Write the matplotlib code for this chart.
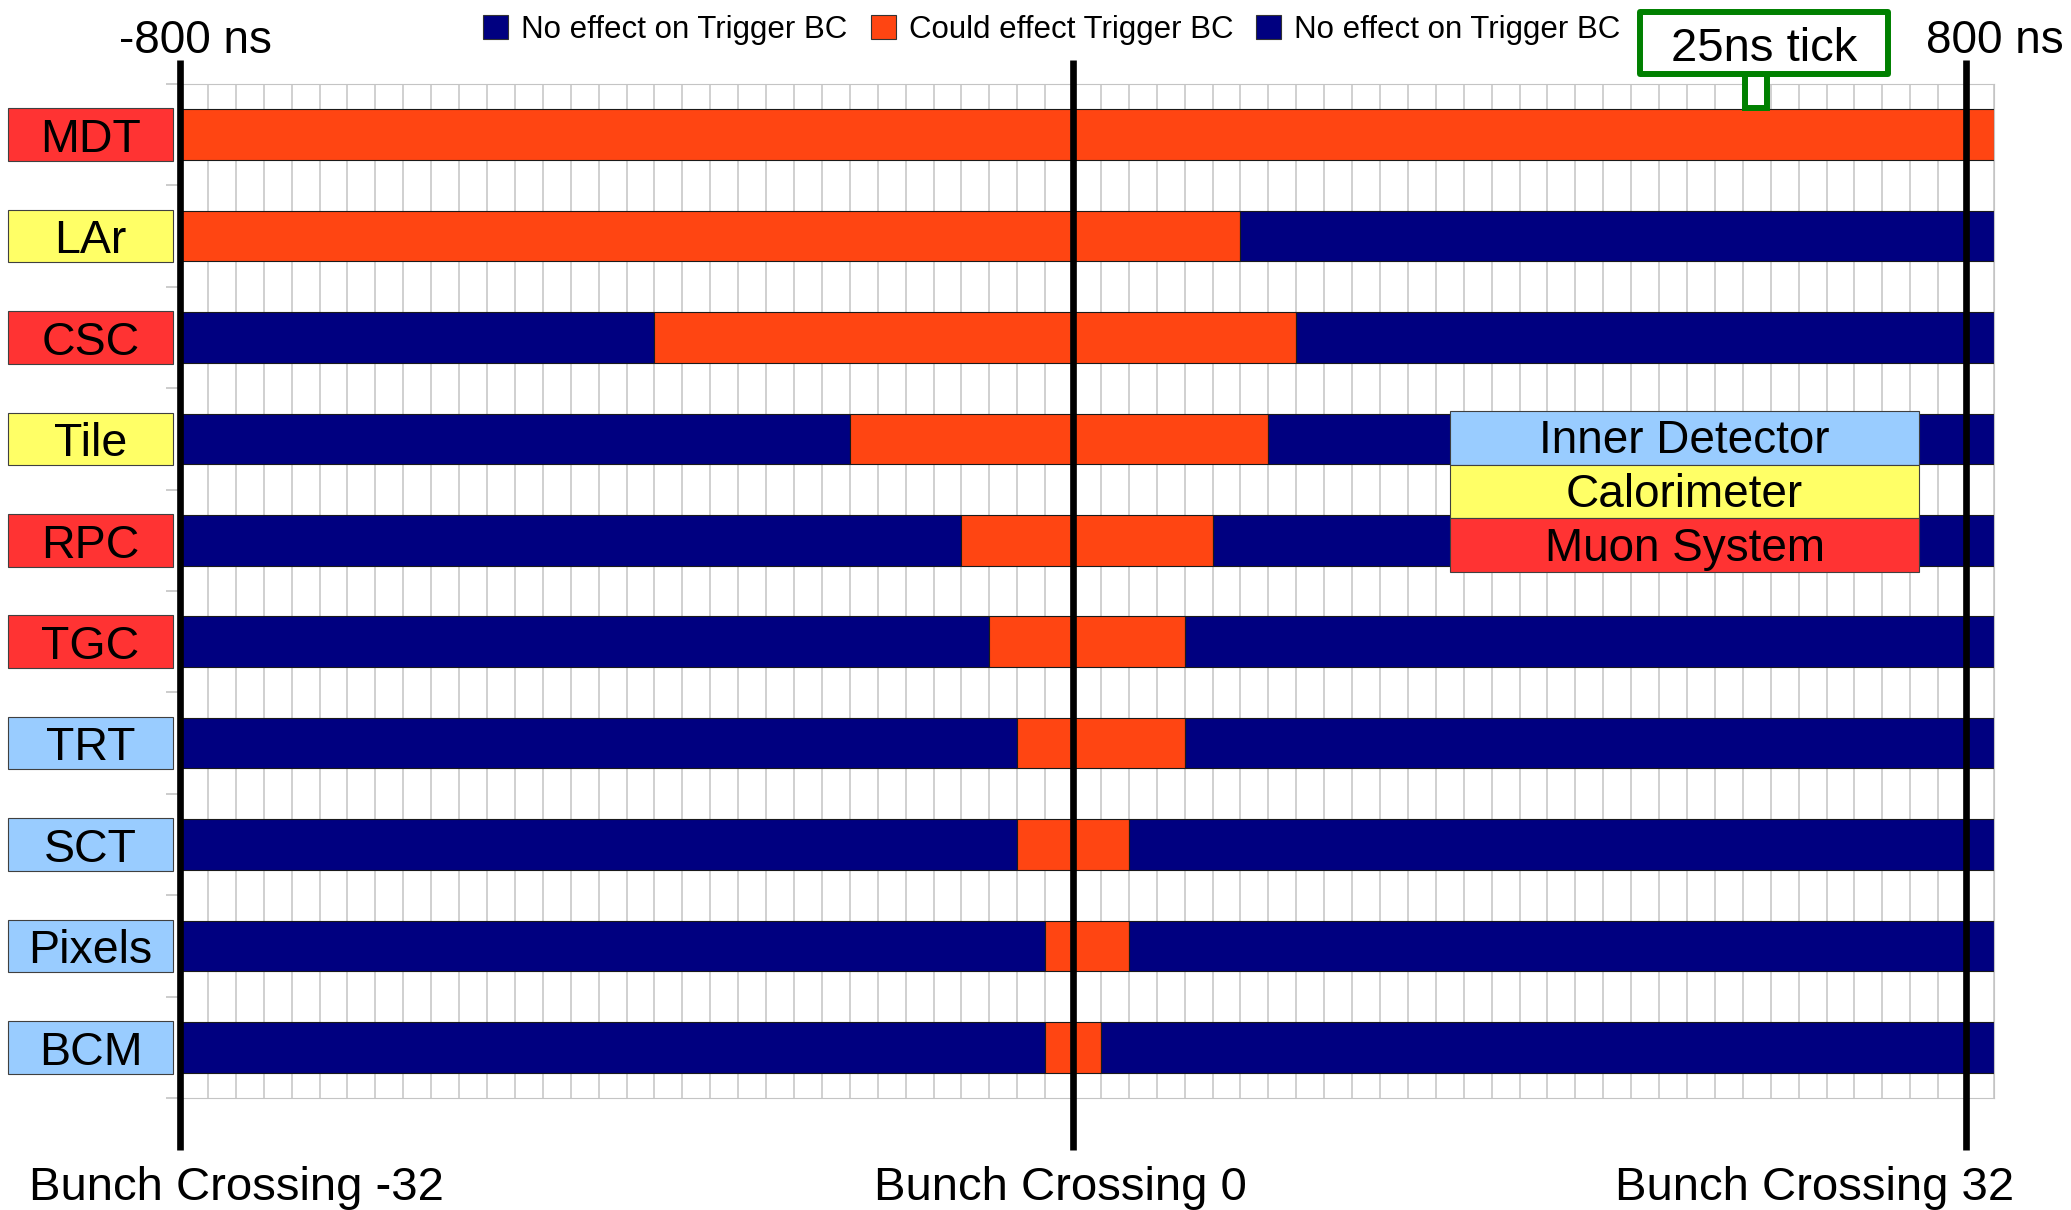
import numpy as np
import matplotlib
matplotlib.use('Agg')
import matplotlib.pyplot as plt
from matplotlib.patches import Rectangle, Patch
from matplotlib import transforms

plt.rcParams['font.family'] = ['Liberation Sans', 'DejaVu Sans']

#%% Data (ns relative to the trigger bunch crossing).
detectors = ['MDT', 'LAr', 'CSC', 'Tile', 'RPC', 'TGC', 'TRT', 'SCT', 'Pixels', 'BCM']
system = ['Muon System', 'Calorimeter', 'Muon System', 'Calorimeter', 'Muon System',
          'Muon System', 'Inner Detector', 'Inner Detector', 'Inner Detector', 'Inner Detector']
# window in which the detector could effect the trigger BC
trig_start = [-800, -800, -375, -200, -100, -75, -50, -50, -25, -25]
trig_end = [825, 150, 200, 175, 125, 100, 100, 50, 50, 25]

t_min, t_max = -800, 825
tick_ns = 25
bc_lines = [-800, 0, 800]
ns_labels = ['-800 ns', '800 ns']
bc_names = ['Bunch Crossing -32', 'Bunch Crossing 0', 'Bunch Crossing 32']
system_names = ['Inner Detector', 'Calorimeter', 'Muon System']
legend_labels = ['No effect on Trigger BC', 'Could effect Trigger BC', 'No effect on Trigger BC']

# colours
system_colors = {'Inner Detector': '#99ccff', 'Calorimeter': '#ffff66', 'Muon System': '#ff3333'}
no_effect_col = '#000080'
effect_col = '#ff4512'
grid_col = '#c4c4c4'

#%% Figure + axes.
W, H = 2071, 1210
fig = plt.figure(figsize=(W / 100, H / 100), dpi=100)
ax = fig.add_axes([180 / W, 112 / H, 1814 / W, 1014 / H])

y = np.arange(len(detectors))
for i in range(len(detectors)):
    segs = [(t_min, trig_start[i], no_effect_col),
            (trig_start[i], trig_end[i], effect_col),
            (trig_end[i], t_max, no_effect_col)]
    for a, b, c in segs:
        if b > a:
            ax.barh(y[i], b - a, left=a, height=0.5, color=c,
                    edgecolor='#1a1a1a', linewidth=0.8, zorder=2)

ax.set_xlim(t_min, t_max)
ax.set_ylim(len(detectors) - 0.5, -0.5)
ax.set_xticks(np.arange(t_min, t_max + 1, tick_ns))
ax.set_xticklabels([])
ax.tick_params(axis='x', length=0)
ax.set_yticks(np.arange(-0.5, len(detectors), 1))
ax.set_yticklabels([])
ax.tick_params(axis='y', length=10, color=grid_col, width=1.2)
ax.grid(axis='x', color=grid_col, linewidth=1.1)
ax.set_axisbelow(True)
for s in ['top', 'bottom', 'right']:
    ax.spines[s].set_color(grid_col)
ax.spines['left'].set_visible(False)

# thick bunch crossing lines (stick out of the axes)
xb = ax.get_xaxis_transform()
ax.vlines(bc_lines, -0.0513, 1.0237, transform=xb, colors='black',
          linewidth=4.8, zorder=6, clip_on=False)

# -800 ns / 800 ns labels
for t, lab, dx in zip([bc_lines[0], bc_lines[-1]], ns_labels, [11, 21]):
    ax.annotate(lab, xy=(t, 1.0309), xycoords=xb, xytext=(dx, 0),
                textcoords='offset points', ha='center', va='baseline',
                fontsize=33, annotation_clip=False)

# bunch crossing labels under the plot
for xf, lab in zip([236 / W, 1060 / W, 1815 / W], bc_names):
    fig.text(xf, 1 - 1200 / H, lab, ha='center', va='baseline', fontsize=34)

# detector name boxes on the left
blend = transforms.blended_transform_factory(ax.transAxes, ax.transData)
for i, d in enumerate(detectors):
    ax.add_patch(Rectangle((-0.0948, y[i] - 0.26), 0.0910, 0.52, transform=blend,
                           facecolor=system_colors[system[i]], edgecolor='#404040',
                           linewidth=0.8, clip_on=False))
    ax.text(-0.0493, y[i] + 0.17, d, transform=blend, ha='center',
            va='baseline', fontsize=33.5)

# system colour key
row_h = 0.053
for k, name in enumerate(system_names):
    top = 0.6775 - k * row_h
    ax.add_patch(Rectangle((0.700, top - row_h), 0.2587, row_h, transform=ax.transAxes,
                           facecolor=system_colors[name], edgecolor='#404040',
                           linewidth=0.8, zorder=7))
    ax.text(0.8294, top - row_h / 2 - 0.0150, name, transform=ax.transAxes,
            ha='center', va='baseline', fontsize=33, zorder=8)

# top legend
handles = [Patch(facecolor=no_effect_col, edgecolor='#333333', linewidth=0.8),
           Patch(facecolor=effect_col, edgecolor='#333333', linewidth=0.8),
           Patch(facecolor=no_effect_col, edgecolor='#333333', linewidth=0.8)]
fig.legend(handles, legend_labels, ncol=3, loc='center left',
           bbox_to_anchor=(483 / W, 1 - 30 / H), frameon=False, fontsize=22.5,
           handlelength=0.8, handleheight=0.8, handletextpad=0.42,
           columnspacing=0.74, borderpad=0, borderaxespad=0)

# "25ns tick" callout pointing at one grid cell
tick_x = 600
ax.add_patch(Rectangle((tick_x + 2, 0.976), tick_ns - 5, 1.0099 - 0.976, transform=xb,
                       facecolor='white', edgecolor='#008000', linewidth=4.3,
                       clip_on=False, zorder=8))
ax.add_patch(Rectangle((507.9, 1.0099), 730 - 507.9, 1.071 - 1.0099, transform=xb,
                       facecolor='white', edgecolor='#008000', linewidth=4.3,
                       joinstyle='round', clip_on=False, zorder=9))
ax.text(619, 1.0227, '25ns tick', transform=xb, ha='center', va='baseline',
        fontsize=34, zorder=10)

fig.savefig('out.png', dpi=100)
